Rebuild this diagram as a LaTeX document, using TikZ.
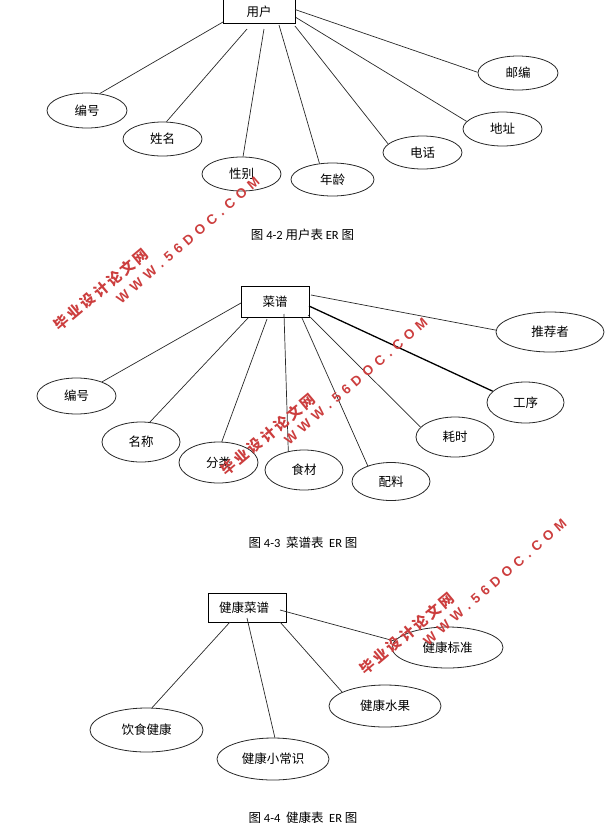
\documentclass[tikz,border=0pt]{standalone}
\usepackage{fontspec}
\setmainfont{Noto Sans CJK SC}
\newfontfamily\latfont{Carlito}
\newfontfamily\wmlat{Liberation Sans}
\usetikzlibrary{shapes.geometric}
\definecolor{wmred}{RGB}{204,62,62}
\definecolor{ink}{RGB}{40,40,40}
\makeatletter
\newcommand\spreadtext[2]{\def\wm@sep{}\@tfor\wm@c:=#2\do{\wm@sep\wm@c\def\wm@sep{\kern#1}}}
\makeatother
\begin{document}
\begin{tikzpicture}[x=1pt,y=-1pt,
  entbox/.style={draw=black, line width=0.9pt, inner sep=0pt, font=\fontsize{12.5}{14}\selectfont},
  attr/.style={ellipse, draw=ink, line width=0.8pt, inner sep=0pt, font=\fontsize{12.5}{14}\selectfont},
  link/.style={draw=ink, line width=0.7pt},
  thicklink/.style={draw=black, line width=1.3pt},
  caption/.style={font=\fontsize{12.5}{14}\selectfont, inner sep=0pt},
  wmcn/.style={text=wmred, font=\fontsize{14.5}{16}\selectfont\bfseries, inner sep=0pt},
  wmen/.style={text=wmred, font=\wmlat\fontsize{13.5}{15}\selectfont\bfseries, inner sep=0pt}]
\useasboundingbox (0,0) rectangle (616,831);

% ---------- Figure 4-2 ----------
\node[entbox, minimum width=72pt, minimum height=23.5pt] (u) at (259,11.5) {用户};
\node[attr, minimum width=80pt, minimum height=35pt] (a1) at (87,110.5) {编号};
\node[attr, minimum width=79pt, minimum height=34pt] (a2) at (162.5,139) {姓名};
\node[attr, minimum width=79pt, minimum height=34pt] (a3) at (241.5,174) {性别};
\node[attr, minimum width=83pt, minimum height=33pt] (a4) at (332.5,179.5) {年龄};
\node[attr, minimum width=79pt, minimum height=33pt] (a5) at (422.5,152.5) {电话};
\node[attr, minimum width=79pt, minimum height=34pt] (a6) at (502.5,129) {地址};
\node[attr, minimum width=80pt, minimum height=34pt] (a7) at (518,73) {邮编};
\coordinate (u1) at (223,22);
\coordinate (u2) at (247,29);
\coordinate (u3) at (264,29);
\coordinate (u4) at (279,25);
\coordinate (u5) at (295,26);
\coordinate (u6) at (296,17.5);
\coordinate (u7) at (295,9.5);
\draw[link] (u1) -- (a1.53);
\draw[link] (u2) -- (a2.77);
\draw[link] (u3) -- (a3.85);
\draw[link] (u4) -- (a4.129);
\draw[link] (u5) -- (a5.166);
\draw[link] (u6) -- (a6.168);
\draw[link] (u7) -- (a7.179);
\node[caption] (cap1) at (302.5,235) {图 {\latfont 4-2} 用户表 {\latfont ER} 图};

% ---------- Figure 4-3 ----------
\node[entbox, minimum width=68pt, minimum height=31pt] (c) at (275,301.5) {菜谱};
\node[attr, minimum width=79pt, minimum height=36pt] (b1) at (76.5,396) {编号};
\node[attr, minimum width=78pt, minimum height=40pt] (b2) at (141,442) {名称};
\node[attr, minimum width=79pt, minimum height=41pt] (b3) at (218.5,462.5) {分类};
\node[attr, minimum width=78pt, minimum height=40pt] (b4) at (304,470) {食材};
\node[attr, minimum width=78pt, minimum height=38pt] (b5) at (391,481.5) {配料};
\node[attr, minimum width=78pt, minimum height=40pt] (b6) at (455,437) {耗时};
\node[attr, minimum width=77pt, minimum height=41pt] (b7) at (525.5,402.5) {工序};
\node[attr, minimum width=108pt, minimum height=40pt] (b8) at (550,332) {推荐者};
\coordinate (c1) at (241,303);
\coordinate (c2) at (248,318);
\coordinate (c3) at (267,319);
\coordinate (c4) at (284,314);
\coordinate (c5) at (302,318);
\coordinate (c6) at (308,315);
\coordinate (c7) at (309,306);
\coordinate (c8) at (311,295);
\draw[link] (c1) -- (b1.29);
\draw[link] (c2) -- (b2.66);
\draw[link] (c3) -- (b3.81);
\draw[link] (c4) -- (b4.130);
\draw[link] (c5) -- (b5.146);
\draw[link] (c6) -- (b6.164);
\draw[thicklink] (c7) -- (b7.161);
\draw[link] (c8) -- (b8.178);
\node[caption] (cap2) at (303,543) {图 {\latfont 4-3}\ \ 菜谱表\ \ {\latfont ER} 图};

% ---------- Figure 4-4 ----------
\node[entbox, minimum height=29pt, text width=56pt, inner xsep=11pt, align=left] (h) at (247,607.5) {健康菜谱};
\node[attr, minimum width=111pt, minimum height=41pt] (d1) at (447.5,647.5) {健康标准};
\node[attr, minimum width=112pt, minimum height=42pt] (d2) at (385,706) {健康水果};
\node[attr, minimum width=112pt, minimum height=42pt] (d3) at (273,759) {健康小常识};
\node[attr, minimum width=113pt, minimum height=44pt] (d4) at (146.5,730) {饮食健康};
\coordinate (h1) at (280,610);
\coordinate (h2) at (280,622);
\coordinate (h3) at (247,618);
\coordinate (h4) at (230,622);
\draw[link] (h1) -- (d1.173);
\draw[link] (h2) -- (d2.162);
\draw[link] (h3) -- (d3.85);
\draw[link] (h4) -- (d4.76);
\node[caption] (cap3) at (303,818) {图 {\latfont 4-4}\ \ 健康表\ \ {\latfont ER} 图};

% ---------- watermarks ----------
\node[wmcn, rotate=40] (w1a) at (101,290) {\spreadtext{2.6pt}{毕业设计论文网}};
\node[wmen, rotate=41] (w1b) at (188,240) {\spreadtext{5.2pt}{WWW.56DOC.COM}};
\node[wmcn, rotate=40] (w2a) at (268,435) {\spreadtext{2.6pt}{毕业设计论文网}};
\node[wmen, rotate=41] (w2b) at (356,381) {\spreadtext{5.2pt}{WWW.56DOC.COM}};
\node[wmcn, rotate=40] (w3a) at (407,634) {\spreadtext{2.6pt}{毕业设计论文网}};
\node[wmen, rotate=41] (w3b) at (495,582) {\spreadtext{5.2pt}{WWW.56DOC.COM}};
\end{tikzpicture}
\end{document}
